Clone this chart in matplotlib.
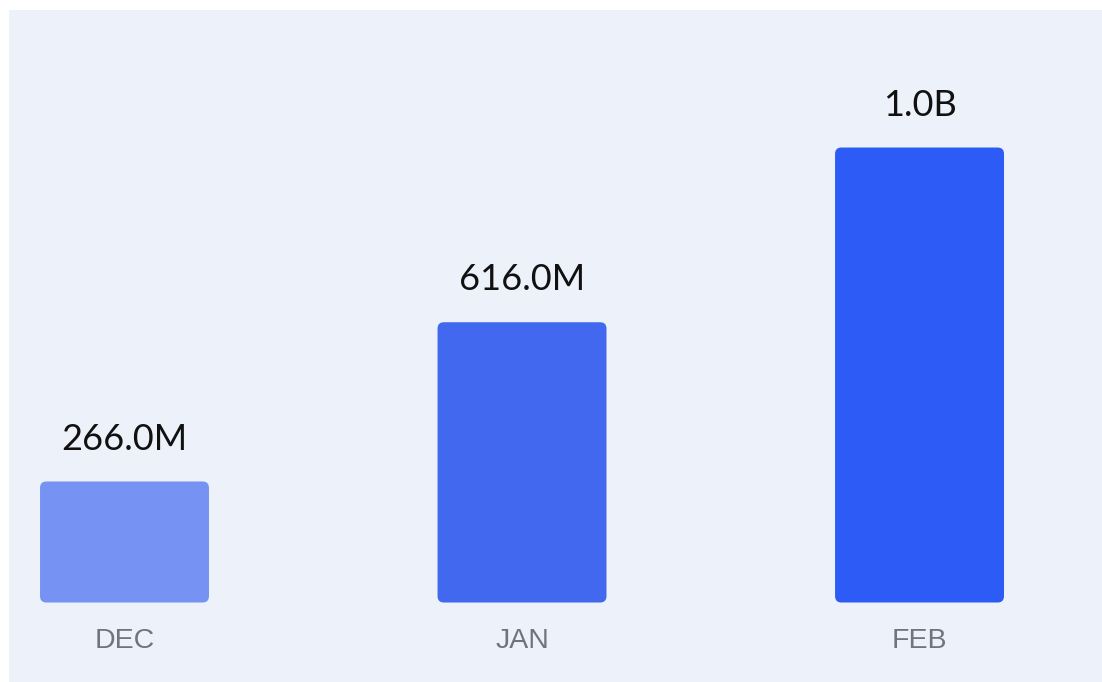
import matplotlib.pyplot as plt
from matplotlib.patches import FancyBboxPatch, Rectangle

months = ['DEC', 'JAN', 'FEB']
values = [266.0, 616.0, 1000.0]   # millions
labels = ['266.0M', '616.0M', '1.0B']
colors = ['#7692F2', '#4268F0', '#2D5BF5']

fig = plt.figure(figsize=(11.02, 6.82), dpi=100)
fig.patch.set_facecolor('white')
# light panel behind the chart
fig.patches.append(Rectangle((9 / 1102, 0.0), 1.0, 672 / 682, transform=fig.transFigure,
                             facecolor='#EDF1F9', edgecolor='none', zorder=-5))

ax = fig.add_axes([0, 0, 1, 1])
ax.set_facecolor('none')
ax.set_zorder(2)
ax.set_xlim(-0.3132, 2.459)
ax.set_ylim(-174.7, 1324.2)
ax.axis('off')

bw = 0.425
for i, v in enumerate(values):
    p = FancyBboxPatch((i - bw / 2, 0), bw, v,
                       boxstyle='round,pad=0,rounding_size=0.016',
                       mutation_aspect=870, facecolor=colors[i], edgecolor='none')
    ax.add_patch(p)
    ax.annotate(labels[i], (i, v), xytext=(0, 23), textcoords='offset points',
                ha='center', va='baseline', fontsize=26, color='#111111', family='Lato')
    ax.annotate(months[i], (i, 0), xytext=(0, -33), textcoords='offset points',
                ha='center', va='baseline', fontsize=20.5, color='#6E7480',
                family='Liberation Sans')

fig.savefig('out.png', dpi=100)
